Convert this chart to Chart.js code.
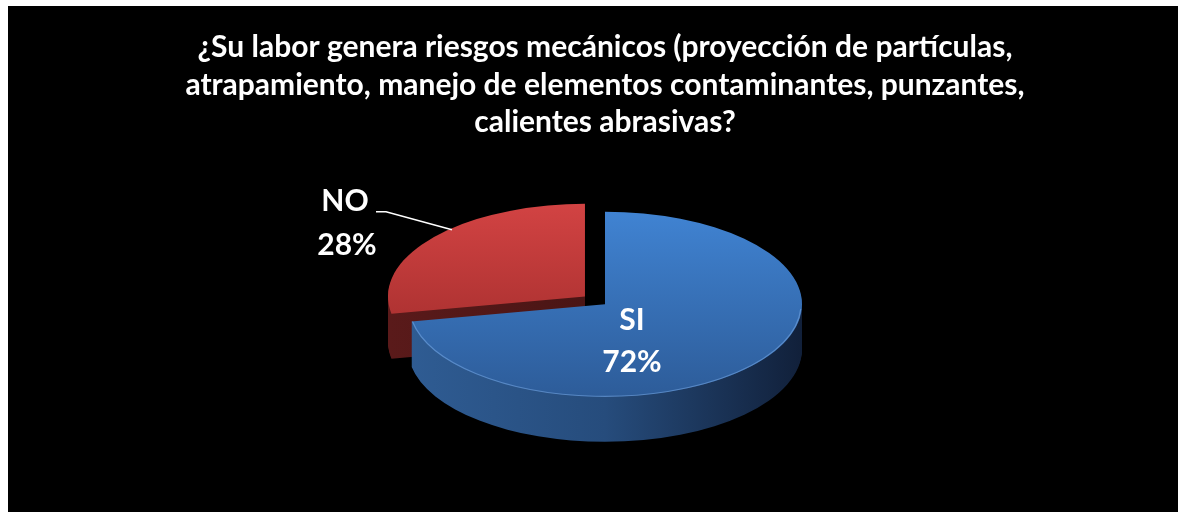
<!DOCTYPE html>
<html><head><meta charset="utf-8">
<script src="https://cdn.jsdelivr.net/npm/chart.js@4.4.1/dist/chart.umd.min.js"></script>
<style>
html,body{margin:0;padding:0;background:#fff;width:1178px;height:512px;overflow:hidden}
#wrap{position:absolute;left:8px;top:6px;width:1170px;height:506px;background:#000}
</style></head><body>
<div id="wrap"><canvas id="c"></canvas></div>
<script>
// ---- data ----
const titleLines = [
  '¿Su labor genera riesgos mecánicos (proyección de partículas,',
  'atrapamiento, manejo de elementos contaminantes, punzantes,',
  'calientes abrasivas?'
];
const categories = ['SI', 'NO'];
const values = [72, 28];
const percentLabels = ['72%', '28%'];

// ---- style ----
const K = 0.47;        // vertical squash of the pie (tilt)
const DEPTH = 45;      // thickness of the pie in px
const topColors = [['#4083d2', '#2d5c99'], ['#d24343', '#982827']];
const sideColors = [['#2f5c93', '#264c7c', '#11203a'], ['#5a1a1a', '#4a1515', '#3e1111']];
const labelFont = 'bold 30px Lato';

const pie3d = {
  id: 'pie3d',
  beforeDatasetsDraw(chart) {
    const ctx = chart.ctx;
    const arcs = chart.getDatasetMeta(0).data;
    const order = [1, 0]; // back slice first
    for (const i of order) {
      const a = arcs[i];
      const p = a.getProps(['x', 'y', 'startAngle', 'endAngle', 'outerRadius'], true);
      const {x, y, startAngle, endAngle} = p;
      const r = p.outerRadius;
      const off = a.options.offset || 0;
      const mid = (startAngle + endAngle) / 2;
      const ox = Math.cos(mid) * off, oy = Math.sin(mid) * off * K;
      const path = () => { ctx.beginPath(); ctx.moveTo(x, y); ctx.arc(x, y, r, startAngle, endAngle); ctx.closePath(); };
      const squash = (dy) => { ctx.translate(x + ox, y + oy + dy); ctx.scale(1, K); ctx.translate(-x, -y); };
      // sides
      const sc = sideColors[i];
      for (let d = DEPTH; d >= 1; d--) {
        ctx.save(); squash(d);
        const sg = ctx.createLinearGradient(x - r, 0, x + r, 0);
        sg.addColorStop(0, sc[0]); sg.addColorStop(0.5, sc[1]); sg.addColorStop(1, sc[2]);
        path(); ctx.fillStyle = sg; ctx.fill();
        ctx.restore();
      }
      // top
      ctx.save(); squash(0);
      const tg = ctx.createLinearGradient(0, y - r, 0, y + r);
      tg.addColorStop(0, topColors[i][0]); tg.addColorStop(1, topColors[i][1]);
      path(); ctx.fillStyle = tg; ctx.fill();
      // light rim along the front edge
      ctx.beginPath();
      ctx.arc(x, y, r - 1, Math.max(startAngle, 0.05), Math.min(endAngle, Math.PI - 0.05));
      ctx.restore();
      if (i === 0) { ctx.save(); ctx.strokeStyle = 'rgba(120,170,230,0.55)'; ctx.lineWidth = 1.2; ctx.stroke(); ctx.restore(); }
    }
    return false;
  },
  afterDraw(chart) {
    const ctx = chart.ctx;
    const arcs = chart.getDatasetMeta(0).data;
    const c = arcs[0].getProps(['x', 'y'], true);
    ctx.save();
    ctx.fillStyle = '#fff';
    ctx.font = labelFont;
    ctx.textAlign = 'center';
    ctx.textBaseline = 'middle';
    // SI label inside
    ctx.fillText(categories[0], c.x + 27, c.y + 16);
    ctx.fillText(percentLabels[0], c.x + 27, c.y + 58);
    // NO label outside with leader line
    ctx.fillText(categories[1], c.x - 260, c.y - 103);
    ctx.fillText(percentLabels[1], c.x - 258, c.y - 59);
    ctx.strokeStyle = '#fff';
    ctx.lineWidth = 1.5;
    ctx.beginPath();
    ctx.moveTo(c.x - 229, c.y - 92.5);
    ctx.lineTo(c.x - 219, c.y - 92.5);
    ctx.lineTo(c.x - 153, c.y - 74.5);
    ctx.stroke();
    ctx.restore();
  }
};

new Chart(document.getElementById('c'), {
  type: 'pie',
  data: {
    labels: categories,
    datasets: [{
      data: values,
      backgroundColor: topColors.map(t => t[0]),
      borderWidth: 0,
      offset: [0, 26]
    }]
  },
  options: {
    responsive: true,
    maintainAspectRatio: false,
    animation: false,
    events: [],
    radius: 197,
    layout: { padding: { left: 24, right: 0, top: 0, bottom: 45 } },
    plugins: {
      legend: { display: false },
      tooltip: { enabled: false },
      title: {
        display: true,
        text: titleLines,
        color: '#fff',
        font: { family: 'Lato', size: 30, weight: 'bold', lineHeight: 1.25 },
        padding: { top: 23, bottom: 0 }
      }
    }
  },
  plugins: [pie3d]
});
</script>
</body></html>
